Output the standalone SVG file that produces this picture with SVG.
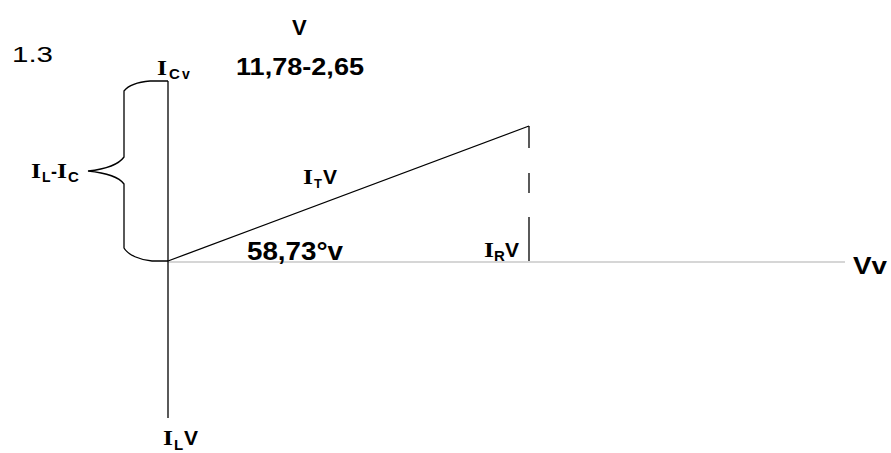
<svg xmlns="http://www.w3.org/2000/svg" width="891" height="453" viewBox="0 0 891 453">
<style>
.ln{stroke:#000;stroke-width:1.3;fill:none}
.ax{stroke:#c8c8c8;stroke-width:1.5;fill:none}
.s{font-family:"Liberation Sans",Arial,sans-serif;font-weight:bold;fill:#000}
.r{font-family:"Liberation Sans",Arial,sans-serif;font-weight:normal;fill:#000}
.i{font-family:"Liberation Serif","Times New Roman",serif;font-weight:bold;fill:#000;font-size:21px}
</style>
<rect width="891" height="453" fill="#fff"/>
<g id="connectors">
<line class="ax" x1="168" y1="262" x2="845" y2="262"/>
<line class="ln" x1="168" y1="81" x2="168" y2="418"/>
<line class="ln" x1="168" y1="261" x2="529" y2="126"/>
<line class="ln" x1="529" y1="126" x2="529" y2="148"/>
<line class="ln" x1="529" y1="173" x2="529" y2="193"/>
<line class="ln" x1="529" y1="217" x2="529" y2="261"/>
<path class="ln" d="M168,81 L150,81 C138,82 128,86 124,91 L124,157 C119,164 107,169 88,171 C107,173 119,177 124,184 L124,248 C128,255 140,260 152,261 L168,261"/>
</g>
<g id="label-13"><text class="r" x="12" y="62" font-size="22" textLength="41" lengthAdjust="spacingAndGlyphs">1.3</text></g>
<g id="label-v-top"><text class="s" x="292" y="35" font-size="22">V</text></g>
<g id="label-value"><text class="s" x="236" y="75" font-size="24" textLength="128" lengthAdjust="spacingAndGlyphs">11,78-2,65</text></g>
<g id="label-ic">
<text class="i" x="157" y="75" textLength="10" lengthAdjust="spacingAndGlyphs">I</text>
<text class="s" x="169" y="79" font-size="15">C</text>
<text class="s" x="182" y="79" font-size="14">v</text>
</g>
<g id="label-il-ic">
<text class="i" x="31" y="178" textLength="10" lengthAdjust="spacingAndGlyphs">I</text>
<text class="s" x="42" y="182" font-size="14">L</text>
<text class="s" x="51" y="178" font-size="18">-</text>
<text class="i" x="57" y="178" textLength="10" lengthAdjust="spacingAndGlyphs">I</text>
<text class="s" x="68" y="182" font-size="15">C</text>
</g>
<g id="label-it">
<text class="i" x="303" y="184" textLength="10" lengthAdjust="spacingAndGlyphs">I</text>
<text class="s" x="314" y="188" font-size="13">T</text>
<text class="s" x="323" y="184" font-size="21">V</text>
</g>
<g id="label-angle"><text class="s" x="247" y="260" font-size="25" textLength="96" lengthAdjust="spacingAndGlyphs">58,73°v</text></g>
<g id="label-ir">
<text class="i" x="484" y="257" textLength="10" lengthAdjust="spacingAndGlyphs">I</text>
<text class="s" x="494" y="261" font-size="15">R</text>
<text class="s" x="505" y="257" font-size="21">V</text>
</g>
<g id="label-vv"><text class="s" x="853" y="274" font-size="23" textLength="34" lengthAdjust="spacingAndGlyphs">Vv</text></g>
<g id="label-il">
<text class="i" x="163" y="445" textLength="10" lengthAdjust="spacingAndGlyphs">I</text>
<text class="s" x="174" y="450" font-size="15">L</text>
<text class="s" x="184" y="445" font-size="21">V</text>
</g>
</svg>
